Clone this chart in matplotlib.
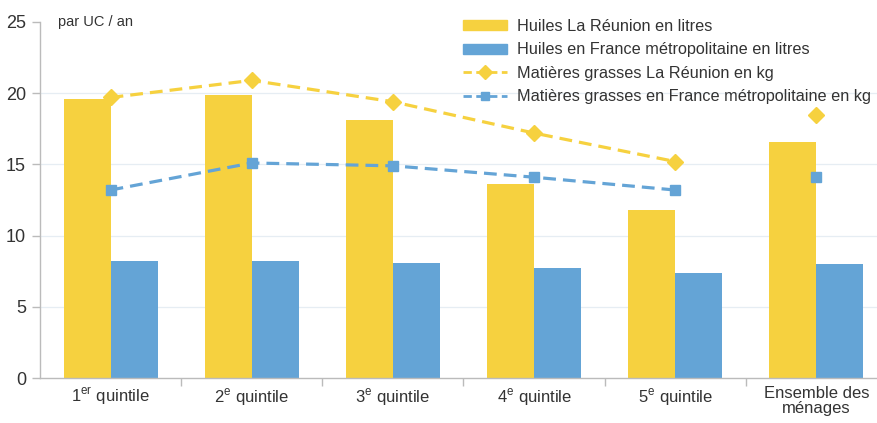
import matplotlib
matplotlib.use("Agg")
import matplotlib.pyplot as plt
import numpy as np
from matplotlib.lines import Line2D
from matplotlib.patches import Patch

categories = ["1$^{\\mathregular{er}}$ quintile", "2$^{\\mathregular{e}}$ quintile",
              "3$^{\\mathregular{e}}$ quintile", "4$^{\\mathregular{e}}$ quintile",
              "5$^{\\mathregular{e}}$ quintile", "Ensemble des\nménages"]
huiles_reunion = [19.6, 19.9, 18.1, 13.6, 11.8, 16.6]
huiles_france = [8.2, 8.2, 8.1, 7.7, 7.4, 8.0]
mg_reunion = [19.7, 20.9, 19.4, 17.2, 15.2]
mg_reunion_total = 18.5
mg_france = [13.2, 15.1, 14.9, 14.1, 13.2]
mg_france_total = 14.1
yticks = [0, 5, 10, 15, 20, 25]

FONT = ["Liberation Sans", "DejaVu Sans"]
plt.rcParams['font.family'] = FONT
plt.rcParams['mathtext.fontset'] = 'custom'
plt.rcParams['mathtext.rm'] = 'Liberation Sans'

YEL = "#F6D13F"
BLU = "#64A4D6"
TXT = "#333333"
GRAY = "#BBBBBB"

fig = plt.figure(figsize=(8.78, 4.23), dpi=100)
ax = fig.add_axes([40/878, 45/423, 847/878, 356/423])

x = np.arange(len(categories))
w = 1/3
ax.bar(x - w/2, huiles_reunion, width=w, color=YEL, zorder=2)
ax.bar(x + w/2, huiles_france, width=w, color=BLU, zorder=2)

xl = x[:5]
ax.plot(xl, mg_reunion, color=YEL, lw=2.3, ls=(0, (4, 2.2)), marker="D", ms=8,
        mfc=YEL, mec=YEL, zorder=3)
ax.plot(xl, mg_france, color=BLU, lw=2.3, ls=(0, (4, 2.2)), marker="s", ms=6.5,
        mfc=BLU, mec=BLU, zorder=3)
ax.plot([x[5]], [mg_reunion_total], ls="none", marker="D", ms=8, color=YEL, zorder=3)
ax.plot([x[5]], [mg_france_total], ls="none", marker="s", ms=6.5, color=BLU, zorder=3)

ax.set_xlim(-0.5, 5.5)
ax.set_ylim(0, 25)
ax.set_yticks(yticks)
ax.set_yticklabels([str(v) for v in yticks])
for v in yticks[1:-1]:
    ax.axhline(v, color="#E6EDF3", lw=0.9, zorder=1)

ax.set_xticks(x)
ax.set_xticklabels(categories)
ax.set_xticks(np.arange(0.5, 5.5, 1), minor=True)
ax.tick_params(axis="x", which="major", length=0, pad=6, labelsize=12, labelcolor=TXT)
ax.tick_params(axis="x", which="minor", length=6, color=GRAY, width=1)
ax.tick_params(axis="y", length=6, color=GRAY, width=1, pad=4, labelsize=13, labelcolor=TXT)
for lab in ax.get_xticklabels():
    lab.set_linespacing(0.95)
    lab.set_verticalalignment("top")

for s in ["top", "right"]:
    ax.spines[s].set_visible(False)
ax.spines["left"].set_color(GRAY)
ax.spines["bottom"].set_color(GRAY)
ax.spines["left"].set_linewidth(1)
ax.spines["bottom"].set_linewidth(1)

fig.text(58/878, 1 - 22/423, "par UC / an", fontsize=10.5,
         color=TXT, va="center", ha="left")

handles = [
    Patch(color=YEL),
    Patch(color=BLU),
    Line2D([], [], color=YEL, lw=2, ls=(0, (3, 1.6)), marker="D", ms=7),
    Line2D([], [], color=BLU, lw=2, ls=(0, (3, 1.6)), marker="s", ms=6),
]
labels = ["Huiles La Réunion en litres",
          "Huiles en France métropolitaine en litres",
          "Matières grasses La Réunion en kg",
          "Matières grasses en France métropolitaine en kg"]
leg = fig.legend(handles, labels, loc="upper left", bbox_to_anchor=(463/878, 1 - 19/423),
                 frameon=False, fontsize=11.7, handlelength=2.7, handleheight=0.6,
                 handletextpad=0.6, labelspacing=0.52, borderpad=0, borderaxespad=0)
for t in leg.get_texts():
    t.set_color(TXT)

fig.savefig("out.png", dpi=100)
